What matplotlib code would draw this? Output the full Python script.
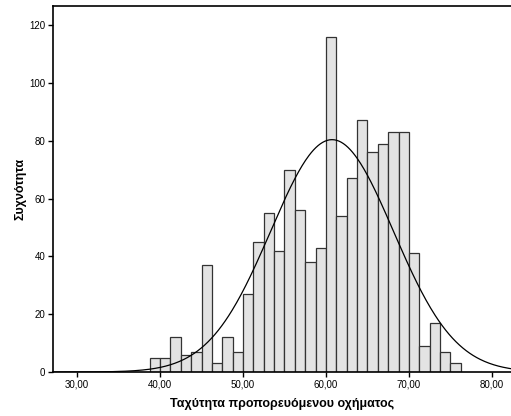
import numpy as np
import matplotlib
matplotlib.use('Agg')
import matplotlib.pyplot as plt
from matplotlib.ticker import FuncFormatter

matplotlib.rcParams['font.family'] = ['Liberation Sans', 'DejaVu Sans']

# histogram of vehicle speed, bins of 1.25 starting at 38.75
bin_start = 38.75
bin_width = 1.25
counts = [5, 5, 12, 6, 7, 37, 3, 12, 7, 27,
          45, 55, 42, 70, 56, 38, 43, 116, 54, 67,
          87, 76, 79, 83, 83, 41, 9, 17, 7, 3]
x_ticks = [30, 40, 50, 60, 70, 80]
y_ticks = [0, 20, 40, 60, 80, 100, 120]

counts = np.array(counts)
edges = bin_start + bin_width * np.arange(len(counts) + 1)
centers = (edges[:-1] + edges[1:]) / 2

# normal curve fitted to the grouped data
n = counts.sum()
mean = np.sum(centers * counts) / n
sd = np.sqrt(np.sum(counts * (centers - mean) ** 2) / (n - 1))

fig = plt.figure(figsize=(5.11, 4.16), dpi=100)
ax = fig.add_axes([53 / 511, 44 / 416, 458 / 511, 366 / 416])

ax.bar(edges[:-1], counts, width=bin_width, align='edge',
       color='#e3e3e3', edgecolor='#333333', linewidth=0.9)

xs = np.linspace(27.1, 82.3, 400)
ys = n * bin_width / (sd * np.sqrt(2 * np.pi)) * np.exp(-0.5 * ((xs - mean) / sd) ** 2)
ax.plot(xs, ys, color='black', linewidth=0.9)

ax.set_xlim(27.1, 82.3)
ax.set_ylim(0, 126.6)
ax.set_xticks(x_ticks)
ax.set_yticks(y_ticks)
ax.xaxis.set_major_formatter(FuncFormatter(lambda v, p: ('%.2f' % v).replace('.', ',')))
ax.tick_params(direction='out', length=3.5, width=1, labelsize=7, pad=2)

for s in ['left', 'bottom', 'top']:
    ax.spines[s].set_linewidth(1.2)
ax.spines['right'].set_visible(False)

ax.set_xlabel('Ταχύτητα προπορευόμενου οχήματος', fontsize=9, fontweight='bold', labelpad=6)
ax.set_ylabel('Συχνότητα', fontsize=9, fontweight='bold', labelpad=2)

fig.savefig('out.png', dpi=100)
